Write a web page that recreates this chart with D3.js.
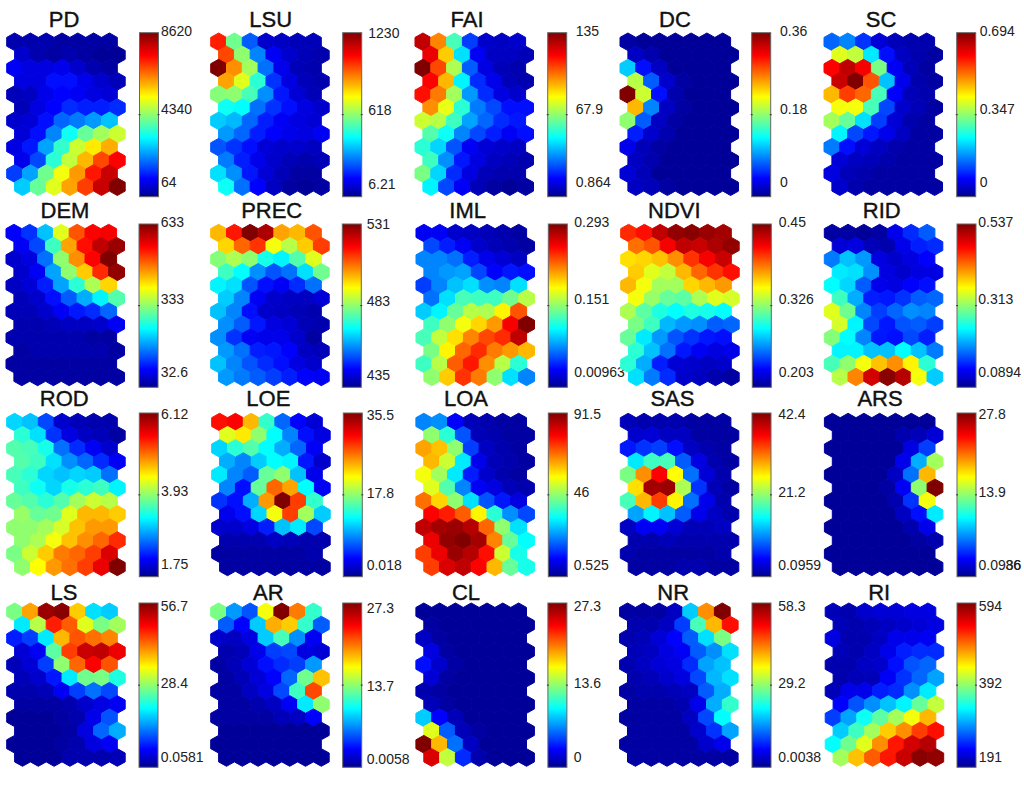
<!DOCTYPE html>
<meta charset="utf-8">
<style>
html, body { margin: 0; background: #fff; }
svg { display: block; }
text { font-family: "Liberation Sans", Arial, sans-serif; fill: #111; }
.title { font-size: 22px; text-anchor: middle; stroke: #111; stroke-width: 0.4px; }
.tick { font-size: 14px; dominant-baseline: middle; fill: #222; }
</style>
<svg width="1024" height="788"></svg>
<script src="https://d3js.org/d3.v7.min.js"></script>
<script>

// cell values, as percent of each panel's colour bar
// 12 rows of 7 hexagons, top to bottom; every second row sits half a cell right
const PD = [[3,3,3,2,2,2,2],[6,3,2,3,2,1,1],[10,8,8,9,6,3,2],[8,8,12,12,9,6,4],[4,5,9,11,10,8,7],[4,8,11,15,14,14,15],
  [6,7,12,21,23,26,30],[7,12,24,37,46,52,56],[8,13,27,41,56,63,69],[9,18,40,55,68,79,86],[17,27,47,60,71,84,92],[31,46,58,70,80,92,100]];
const LSU = [[83,47,20,6,5,4,4],[79,50,24,10,6,4,3],[100,72,52,22,9,4,3],[70,58,40,16,8,4,3],[49,50,43,25,13,7,4],[37,36,22,16,12,8,6],
  [31,29,21,14,10,8,7],[26,21,14,11,9,8,10],[19,16,12,7,6,6,5],[23,14,9,6,4,3,4],[33,25,13,7,4,2,2],[37,22,11,5,2,1,2]];
const FAI = [[93,73,43,17,6,5,6],[88,66,33,10,5,5,4],[100,79,53,20,8,4,3],[86,68,35,15,9,4,3],[85,74,52,26,15,8,6],[72,59,40,23,18,12,12],
  [56,54,42,27,21,15,13],[44,37,24,18,14,10,12],[40,32,19,10,7,6,5],[42,25,13,8,5,4,3],[48,32,15,8,4,3,3],[35,18,10,4,2,1,2]];
const DC = [[2,1,1,1,1,1,1],[5,3,1,1,1,1,1],[31,12,5,1,1,1,1],[54,20,6,2,1,1,1],[100,56,12,3,1,1,1],[68,24,5,2,1,1,1],
  [50,20,5,2,1,1,1],[14,6,3,1,1,1,1],[9,4,2,1,1,1,1],[5,3,1,1,1,1,1],[7,4,1,1,1,1,1],[5,4,2,1,1,1,1]];
const SC = [[21,24,16,7,4,3,3],[58,55,34,12,5,3,2],[86,93,87,48,10,4,2],[92,100,78,30,9,3,2],[68,80,76,43,11,4,3],[60,60,43,18,6,4,2],
  [52,46,33,17,7,3,2],[35,18,13,9,5,2,2],[23,12,7,5,3,2,2],[7,5,4,3,2,2,2],[8,4,3,2,2,2,2],[6,3,2,2,2,2,2]];
const DEM = [[11,16,30,58,78,86,87],[10,18,42,70,85,93,97],[6,8,22,50,72,86,100],[6,10,27,50,66,82,98],[5,7,14,27,40,53,65],[4,6,12,20,28,35,44],
  [4,4,6,10,13,15,21],[3,3,4,5,5,6,10],[3,3,3,3,3,2,2],[2,3,3,3,3,3,2],[2,2,2,2,2,2,2],[2,2,2,2,2,2,2]];
const PREC = [[68,84,100,95,70,68,78],[65,76,81,60,54,66,80],[49,53,50,38,35,44,58],[42,36,25,19,22,33,47],[35,33,19,12,10,15,22],[31,24,10,6,5,5,7],
  [30,24,12,6,5,4,3],[25,20,13,8,7,4,3],[25,16,10,9,9,6,2],[26,22,14,13,11,5,4],[30,24,19,15,12,8,6],[26,23,20,17,14,11,10]];
const IML = [[10,10,6,5,4,3,2],[18,14,10,6,4,3,2],[24,24,22,14,9,7,5],[24,26,27,18,11,13,12],[17,24,30,33,25,24,33],[22,33,43,42,42,47,54],
  [31,35,46,54,53,62,78],[42,50,60,65,71,87,100],[43,55,64,73,79,82,93],[48,62,76,82,74,71,68],[42,54,77,84,72,54,40],[50,66,81,74,50,33,24]];
const NDVI = [[82,85,93,98,99,97,96],[75,78,87,93,92,95,98],[64,65,67,72,81,87,92],[66,58,55,68,76,81,85],[68,60,52,52,65,68,71],[60,51,46,45,53,58,57],
  [53,45,39,36,39,38,36],[48,42,29,26,25,20,21],[46,34,26,19,16,13,12],[40,30,22,13,10,8,9],[40,28,14,7,6,5,6],[33,23,15,6,5,3,2]];
const RID = [[2,2,1,2,9,15,20],[7,8,4,3,9,14,15],[23,30,26,8,6,8,11],[34,33,25,8,6,8,8],[36,32,20,9,8,11,12],[42,28,14,13,16,20,21],
  [58,47,24,17,21,25,24],[57,35,18,13,19,20,17],[49,36,24,13,12,18,14],[35,35,30,30,36,30,23],[43,50,60,67,72,62,40],[54,73,91,99,94,60,31]];
const ROD = [[32,30,18,6,4,3,3],[40,33,16,8,5,4,2],[44,43,38,22,15,10,6],[44,42,33,25,21,15,10],[43,40,32,30,32,31,22],[42,37,32,38,40,42,35],
  [46,44,40,44,52,56,54],[51,46,47,58,68,68,66],[50,50,52,57,67,71,71],[50,53,60,67,72,76,82],[48,56,66,74,76,80,90],[50,61,71,75,80,88,100]];
const LOE = [[85,86,68,41,21,11,7],[58,63,50,36,24,12,8],[32,40,44,36,28,21,10],[28,24,31,36,35,13,6],[34,24,20,46,50,30,9],[24,12,46,76,70,36,10],
  [16,12,28,71,100,80,41],[9,12,32,60,80,52,31],[6,6,8,14,30,34,18],[3,3,3,5,4,3,3],[2,2,2,2,2,2,3],[2,2,2,2,2,2,2]];
const LOA = [[24,25,11,4,3,2,2],[50,40,19,4,3,2,2],[70,67,50,17,5,3,2],[68,56,34,9,4,3,2],[60,52,34,14,6,3,2],[58,44,24,10,8,4,3],
  [75,65,50,33,19,13,8],[86,83,77,62,40,25,18],[93,96,97,94,76,50,33],[88,98,100,96,73,46,36],[80,88,97,94,85,56,38],[80,90,93,86,68,46,38]];
const SAS = [[4,3,3,3,2,2,2],[6,7,5,5,2,2,2],[13,16,17,12,5,3,2],[34,42,43,20,8,3,2],[48,72,86,61,22,7,3],[64,96,97,53,16,4,2],
  [43,68,80,62,22,9,3],[27,35,30,20,9,5,3],[5,10,10,7,4,4,5],[3,3,4,3,3,3,3],[3,2,2,2,2,2,3],[2,2,2,3,3,2,2]];
const ARS = [[1,1,1,1,1,1,1],[1,1,1,1,3,4,7],[1,1,1,1,1,8,17],[1,1,1,1,9,28,52],[1,1,1,1,5,22,68],[1,1,1,2,10,50,100],
  [1,1,1,1,3,16,60],[1,1,1,1,5,12,34],[1,1,1,1,1,3,9],[1,1,1,1,1,2,3],[1,1,1,1,1,1,1],[1,1,1,1,1,1,1]];
const LS = [[48,70,97,99,66,33,31],[34,54,83,77,58,48,52],[14,17,34,68,78,75,73],[7,10,45,80,92,93,88],[4,7,17,50,76,86,78],[4,6,13,34,47,48,39],
  [3,3,4,10,17,22,18],[2,2,2,3,6,8,10],[1,1,1,2,3,9,19],[1,1,1,2,8,21,28],[1,1,1,2,3,8,10],[1,1,1,3,3,3,4]];
const AR = [[48,26,19,60,100,74,41],[20,11,31,69,66,41,20],[6,5,8,31,43,25,10],[3,4,9,17,18,8,7],[2,4,7,12,15,17,26],[2,4,7,11,21,47,67],
  [2,2,5,8,18,42,79],[2,2,3,5,10,34,50],[2,2,2,2,4,5,11],[1,1,1,1,1,1,1],[1,1,1,1,1,1,1],[1,1,1,1,1,1,1]];
const CL = [[1,1,1,1,1,1,1],[2,1,1,1,1,1,1],[5,2,1,1,1,1,1],[8,2,1,1,1,1,1],[12,6,2,1,1,1,1],[7,2,1,1,1,1,1],
  [3,2,1,1,1,1,1],[4,2,1,1,1,1,1],[31,11,4,1,1,1,1],[58,20,4,2,1,1,1],[100,68,22,5,1,1,1],[90,55,15,3,1,1,1]];
const NR = [[2,2,2,5,31,72,100],[3,3,5,17,43,68,85],[3,4,7,11,20,33,48],[4,5,8,10,20,25,33],[3,5,7,8,15,27,30],[3,4,6,8,18,29,33],
  [2,3,3,4,5,20,28],[2,2,2,3,9,28,41],[2,2,2,2,5,18,36],[2,2,2,2,6,16,27],[2,2,2,2,2,6,9],[2,2,2,2,2,2,2]];
const RI = [[4,3,6,7,7,8,8],[4,3,4,5,6,7,8],[8,3,3,5,9,9,10],[4,3,5,9,14,15,15],[3,3,5,6,12,19,21],[3,4,4,10,16,21,27],
  [4,9,9,14,15,25,34],[11,19,25,30,35,46,55],[17,27,37,45,52,60,68],[31,42,52,66,72,80,85],[36,47,58,72,84,91,94],[52,67,77,84,92,99,98]];

const names = ["PD","LSU","FAI","DC","SC","DEM","PREC","IML","NDVI","RID","ROD","LOE","LOA","SAS","ARS","LS","AR","CL","NR","RI"];
const cells = [PD,LSU,FAI,DC,SC,DEM,PREC,IML,NDVI,RID,ROD,LOE,LOA,SAS,ARS,LS,AR,CL,NR,RI];
const tickLabels = [
  ["8620","4340","64"],["1230","618","6.21"],["135","67.9","0.864"],["0.36","0.18","0"],["0.694","0.347","0"],
  ["633","333","32.6"],["531","483","435"],["0.293","0.151","0.00963"],["0.45","0.326","0.203"],["0.537","0.313","0.0894"],
  ["6.12","3.93","1.75"],["35.5","17.8","0.018"],["91.5","46","0.525"],["42.4","21.2","0.0959"],["27.8","13.9","0.0986"],
  ["56.7","28.4","0.0581"],["27.3","13.7","0.0058"],["27.3","13.6","0"],["58.3","29.2","0.0038"],["594","392","191"]
];
// the source has a stray pair of digits printed over the end of the ARS label
const strayLabel = {panel: 14, text: "36", x: 1005.5};

// page layout, one entry per panel / row
const gridLeft  = [6.7,210.7,415,620,824, 6,210.7,416,620.7,824.3, 6.7,211.7,415.9,620.3,824.4, 6.7,210.7,415.9,619.6,825.2];
const barLeft   = [139.5,342.7,547.7,751.7,956.7, 139,342.3,548.3,752.3,957, 139.3,343.3,548.3,752,957, 139,342.7,547.9,752,957];
const tickX     = [161,368.3,575.7,780,979.7, 160.7,366.7,574.3,778.7,978.3, 161,366.7,573.7,778.2,978.5, 160.7,366.7,573.7,778.2,978.7];
const titleX    = [64,270.7,467,675,881, 65,271.7,467.7,674.3,881.7, 64.3,268.3,466,672.4,880, 64,268.3,466,673.2,879.2];
const tickY     = [[32,110,183],[34.5,111.5,185],[32,110,183],[32,110,183],[32,110,183],
  [223.3,300,373],[225,302,376],[223,300.5,373.5],[223,300.5,373.5],[223,300,373],
  [415,492.7,565.7],[416.7,494,566.7],[415.7,493.3,566],[415.7,493.3,566],[415.7,493.3,566],
  [607.3,684.7,758.7],[609.3,687,760],[607,684.7,758],[607,684.7,758],[607,684.7,758]];
const rowTop    = [33,224.3,413.3,603];
const rowBottom = [195.5,385.7,575.7,766.3];
const barTop    = [32.7,224,413,603];
const barBottom = [196.7,387.3,576.7,767.3];
const titleY    = [27.3,217.7,405.7,599.7];

const gridWidth = 118.5, barWidth = 19;

// jet colour map
const jetStops = [0, 11, 36, 61, 86, 100];
const jetColors = ["#00008f", "#0000ff", "#00ffff", "#ffff00", "#ff0000", "#800000"];
const jet = d3.scaleLinear().domain(jetStops).range(jetColors);

const svg = d3.select("svg");
const defs = svg.append("defs");

defs.append("filter").attr("id", "soft")
  .attr("x", "-5%").attr("y", "-5%").attr("width", "110%").attr("height", "110%")
  .append("feGaussianBlur").attr("stdDeviation", 0.6);

const grad = defs.append("linearGradient").attr("id", "jet")
  .attr("x1", 0).attr("y1", 1).attr("x2", 0).attr("y2", 0);
grad.selectAll("stop").data(jetStops).enter().append("stop")
  .attr("offset", d => d + "%")
  .attr("stop-color", d => jet(d));

names.forEach((name, i) => {
  const row = Math.floor(i / 5);
  const g = svg.append("g");

  const x = d3.scaleLinear().domain([0, 7.5]).range([gridLeft[i], gridLeft[i] + gridWidth]);
  const side = (rowBottom[row] - rowTop[row]) / 18.5;
  const y = d3.scaleLinear().domain([0, 11]).range([rowTop[row] + side, rowBottom[row] - side]);
  const hw = (x(1) - x(0)) / 2;
  const hex = d3.line()([[0, -side], [hw, -side / 2], [hw, side / 2], [0, side], [-hw, side / 2], [-hw, -side / 2]]) + "Z";

  const flat = cells[i].flatMap((vals, r) => vals.map((v, c) => ({v: v, r: r, c: c})));

  g.append("g").attr("filter", "url(#soft)")
    .selectAll("path").data(flat).enter().append("path")
    .attr("d", hex)
    .attr("transform", d => "translate(" + x(d.c + 0.5 + (d.r % 2) * 0.5) + "," + y(d.r) + ")")
    .attr("fill", d => jet(d.v))
    .attr("stroke", d => jet(d.v))
    .attr("stroke-width", 1)
    .attr("stroke-linejoin", "round");

  g.append("text").attr("class", "title")
    .attr("x", titleX[i]).attr("y", titleY[row]).text(name);

  // colour bar
  const barY = d3.scaleLinear().domain([0, 100]).range([barBottom[row], barTop[row]]);
  g.append("rect")
    .attr("x", barLeft[i]).attr("y", barY(100))
    .attr("width", barWidth).attr("height", barY(0) - barY(100))
    .attr("fill", "url(#jet)")
    .attr("stroke", "#666").attr("stroke-width", 1);

  [barLeft[i] - 1, barLeft[i] + barWidth - 1].forEach(tx => {
    g.append("rect").attr("x", tx).attr("y", barY(50) - 0.5)
      .attr("width", 2).attr("height", 1).attr("fill", "#333");
  });

  g.selectAll("text.tick").data(tickLabels[i]).enter().append("text")
    .attr("class", "tick")
    .attr("x", tickX[i])
    .attr("y", (d, k) => tickY[i][k])
    .text(d => d);

  if (i === strayLabel.panel) {
    g.append("text").attr("class", "stray tick")
      .attr("x", strayLabel.x).attr("y", tickY[i][2]).text(strayLabel.text);
  }
});

</script>
